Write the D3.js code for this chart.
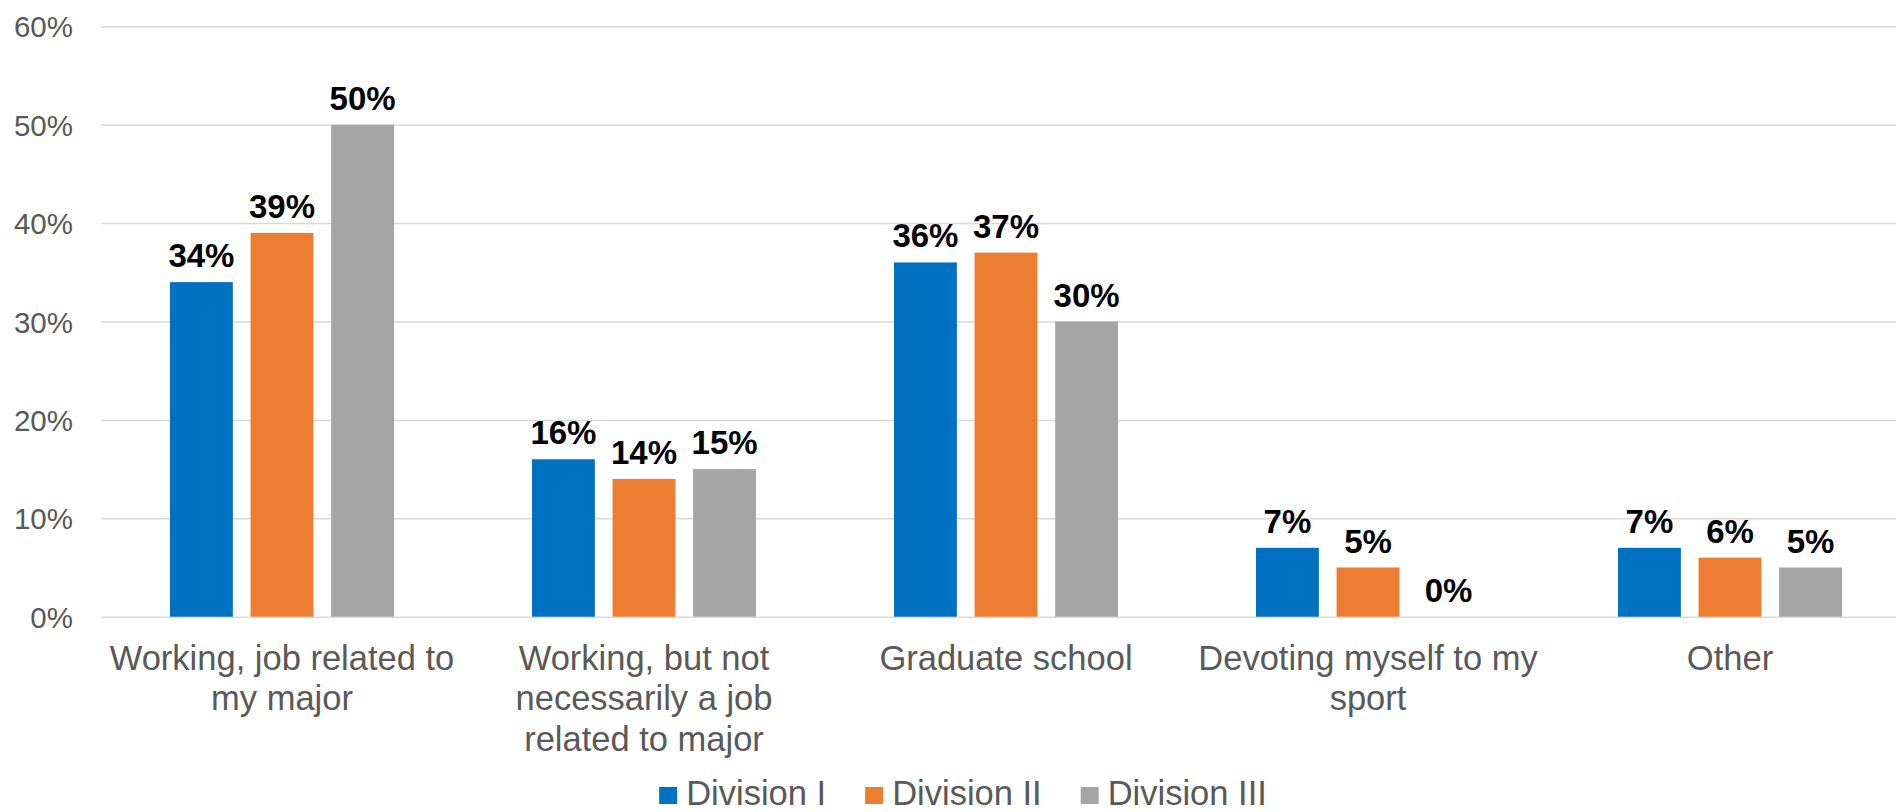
<!DOCTYPE html>
<html>
<head>
<meta charset="utf-8">
<script src="https://cdn.jsdelivr.net/npm/d3@7"></script>
<style>
  html, body { margin: 0; padding: 0; background: #fff; }
  svg { display: block; font-family: "Liberation Sans", Arial, sans-serif; }
</style>
</head>
<body>
<svg id="chart" width="1896" height="812"></svg>
<script>
// Post-graduation plans by NCAA division
const categories = [
  "Working, job related to my major",
  "Working, but not necessarily a job related to major",
  "Graduate school",
  "Devoting myself to my sport",
  "Other"
];
const categoryLines = [
  ["Working, job related to", "my major"],
  ["Working, but not", "necessarily a job", "related to major"],
  ["Graduate school"],
  ["Devoting myself to my", "sport"],
  ["Other"]
];
const seriesNames = ["Division I", "Division II", "Division III"];
const divisionI   = [34, 16, 36, 7, 7];
const divisionII  = [39, 14, 37, 5, 6];
const divisionIII = [50, 15, 30, 0, 5];
const seriesColors = ["#0070C0", "#ED7D31", "#A5A5A5"];
const yTicks = [0, 10, 20, 30, 40, 50, 60];

const seriesValues = [divisionI, divisionII, divisionIII];

const svg = d3.select("#chart");
const plotLeft = 101, plotRight = 1911;
const plotTop = 26.3, plotBottom = 616.7;

const x = d3.scaleBand().domain(categories).range([plotLeft, plotRight]).padding(0);
const xs = d3.scaleBand().domain(seriesNames)
  .range([x.bandwidth() * 0.1906, x.bandwidth() * 0.8094])
  .paddingInner(0.22).paddingOuter(0);
const y = d3.scaleLinear().domain([0, 60]).range([plotBottom, plotTop]);

// Horizontal gridlines and percent tick labels
const yAxis = d3.axisLeft(y)
  .tickValues(yTicks)
  .tickFormat(d => d + "%")
  .tickSize(-(plotRight - plotLeft))
  .tickPadding(28);
const gy = svg.append("g")
  .attr("transform", `translate(${plotLeft},0)`)
  .call(yAxis);
gy.select(".domain").remove();
gy.selectAll(".tick line").attr("stroke", "#D9D9D9").attr("stroke-width", 1.5);
gy.selectAll(".tick text")
  .attr("fill", "#595959")
  .attr("font-size", 29.5)
  .attr("dy", "0.36em");

// Bars
const rows = [];
categories.forEach((c, i) => {
  seriesNames.forEach((s, j) => rows.push({ cat: c, series: s, value: seriesValues[j][i], color: seriesColors[j] }));
});

const groups = svg.append("g");
groups.selectAll("rect")
  .data(rows)
  .join("rect")
  .attr("x", d => x(d.cat) + xs(d.series))
  .attr("width", xs.bandwidth())
  .attr("y", d => y(d.value))
  .attr("height", d => y(0) - y(d.value))
  .attr("fill", d => d.color);

// Value labels above each bar
groups.selectAll("text")
  .data(rows)
  .join("text")
  .attr("x", d => x(d.cat) + xs(d.series) + xs.bandwidth() / 2)
  .attr("y", d => y(d.value) - 15)
  .attr("text-anchor", "middle")
  .attr("font-size", 33)
  .attr("font-weight", "bold")
  .attr("fill", "#000")
  .text(d => d.value + "%");

// Category axis with wrapped labels
const xAxis = d3.axisBottom(x).tickSize(0).tickFormat("");
const gx = svg.append("g")
  .attr("transform", `translate(0,${plotBottom})`)
  .call(xAxis);
gx.select(".domain").remove();
gx.selectAll(".tick").each(function (d, i) {
  const t = d3.select(this).append("text")
    .attr("fill", "#595959")
    .attr("font-size", 34.5)
    .attr("text-anchor", "middle")
    .attr("y", 53);
  categoryLines[i].forEach((line, k) => {
    t.append("tspan").attr("x", 0).attr("dy", k === 0 ? 0 : 40.5).text(line);
  });
});

// Legend
const legend = svg.append("g");
const legendY = 805;
const items = legend.selectAll("g")
  .data(seriesNames)
  .join("g");
items.append("rect")
  .attr("width", 18).attr("height", 17)
  .attr("y", legendY - 18)
  .attr("fill", (d, i) => seriesColors[i]);
items.append("text")
  .attr("x", 27)
  .attr("y", legendY)
  .attr("font-size", 34.5)
  .attr("fill", "#595959")
  .text(d => d);
let cursor = 0;
const widths = [];
items.each(function () {
  const w = 27 + d3.select(this).select("text").node().getComputedTextLength();
  widths.push(w);
});
const gap = 39;
const total = d3.sum(widths) + gap * (widths.length - 1);
cursor = 963 - total / 2;
items.each(function (d, i) {
  d3.select(this).attr("transform", `translate(${cursor},0)`);
  cursor += widths[i] + gap;
});
</script>
</body>
</html>
